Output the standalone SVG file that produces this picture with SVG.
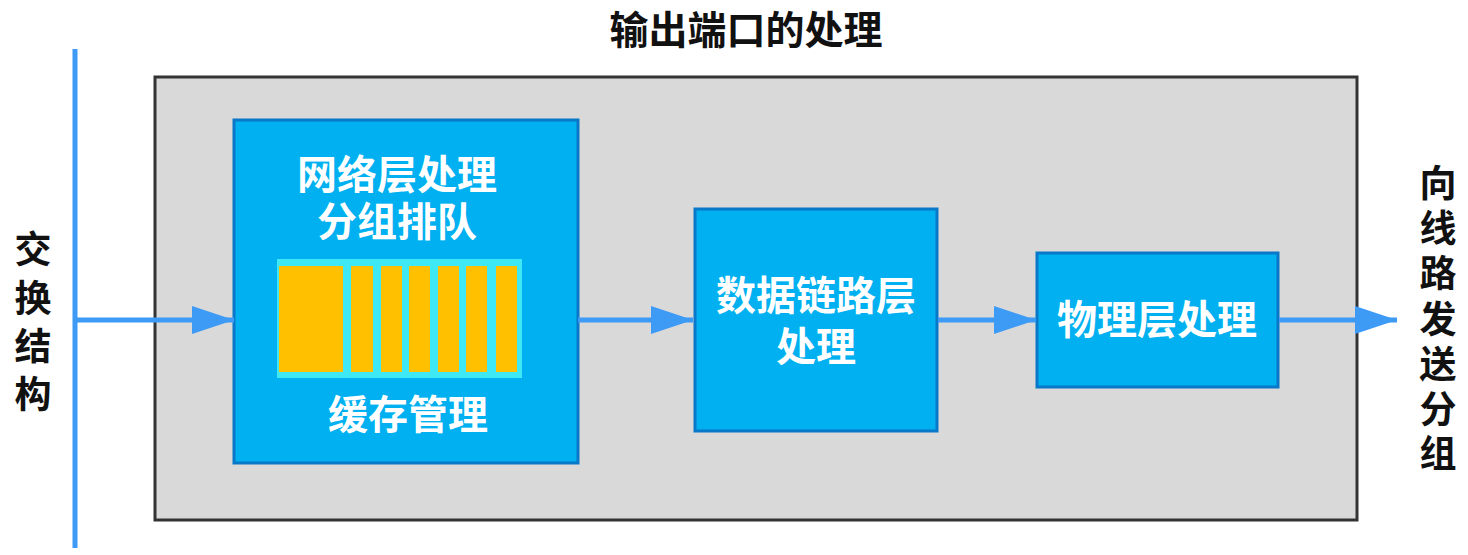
<svg xmlns="http://www.w3.org/2000/svg" width="1468" height="555" viewBox="0 0 1468 555">
<defs>
<style>
.t{font-family:"Liberation Sans","Noto Sans CJK SC",sans-serif;font-weight:bold;text-anchor:middle;}
.w{fill:#ffffff;font-size:40px;}
.k{fill:#111111;font-size:37px;}
.box{fill:#00b0f0;stroke:#0a78c8;stroke-width:3;}
.bar{fill:#ffc000;}
.conn{stroke:#3d9af5;stroke-width:5;fill:none;}
</style>
<marker id="ah" markerUnits="userSpaceOnUse" markerWidth="44" markerHeight="28" refX="42" refY="14" orient="auto">
<path d="M0,0 L42,14 L0,28 Z" fill="#3d9af5"/>
</marker>
</defs>
<rect width="1468" height="555" fill="#ffffff"/>
<text class="t k" x="746" y="44" style="font-size:39px">输出端口的处理</text>
<g id="container">
<rect x="155" y="77" width="1202" height="443" fill="#d9d9d9" stroke="#333333" stroke-width="3"/>
</g>
<g id="fabric">
<line x1="75" y1="49" x2="75" y2="548" stroke="#3d9af5" stroke-width="5"/>
<text class="t k" x="33" y="263">交</text>
<text class="t k" x="33" y="312">换</text>
<text class="t k" x="33" y="360">结</text>
<text class="t k" x="33" y="408">构</text>
</g>
<g id="output-label">
<text class="t k" x="1438" y="197">向</text>
<text class="t k" x="1438" y="242">线</text>
<text class="t k" x="1438" y="287">路</text>
<text class="t k" x="1438" y="333">发</text>
<text class="t k" x="1438" y="378">送</text>
<text class="t k" x="1438" y="423">分</text>
<text class="t k" x="1438" y="467">组</text>
</g>
<g id="network-layer">
<rect class="box" x="234" y="120" width="344" height="343"/>
<text class="t w" x="397" y="189">网络层处理</text>
<text class="t w" x="397" y="236">分组排队</text>
<rect x="277" y="259" width="245" height="119" fill="#3fe8f5"/>
<rect class="bar" x="279" y="266" width="64" height="106"/>
<rect class="bar" x="351" y="266" width="22" height="106"/>
<rect class="bar" x="381" y="266" width="21" height="106"/>
<rect class="bar" x="409" y="266" width="21" height="106"/>
<rect class="bar" x="438" y="266" width="21" height="106"/>
<rect class="bar" x="466" y="266" width="21" height="106"/>
<rect class="bar" x="496" y="266" width="21" height="106"/>
<text class="t w" x="408" y="429">缓存管理</text>
</g>
<g id="datalink-layer">
<rect class="box" x="695" y="209" width="242" height="222"/>
<text class="t w" x="816" y="310">数据链路层</text>
<text class="t w" x="816" y="361">处理</text>
</g>
<g id="physical-layer">
<rect class="box" x="1037" y="253" width="241" height="134"/>
<text class="t w" x="1157" y="334">物理层处理</text>
</g>
<g id="connectors">
<line class="conn" x1="77" y1="320" x2="234" y2="320" marker-end="url(#ah)"/>
<line class="conn" x1="578" y1="320" x2="693" y2="320" marker-end="url(#ah)"/>
<line class="conn" x1="938" y1="320" x2="1036" y2="320" marker-end="url(#ah)"/>
<line class="conn" x1="1279" y1="320" x2="1397" y2="320" marker-end="url(#ah)"/>
</g>
</svg>
